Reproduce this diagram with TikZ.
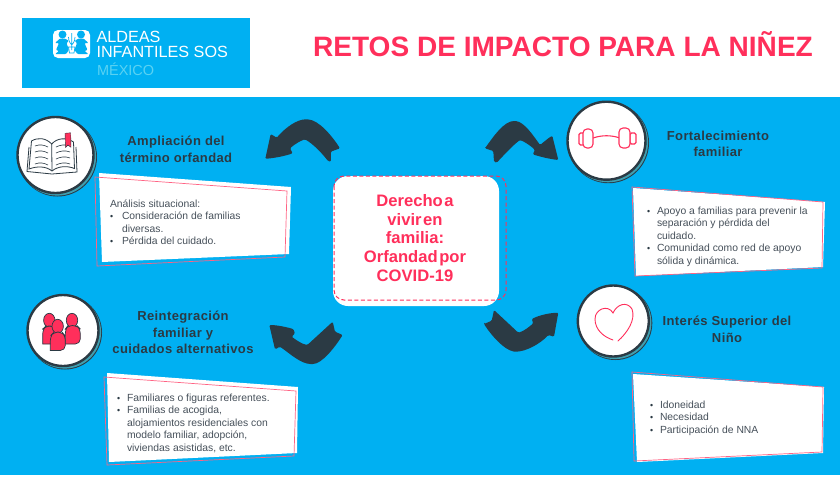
\documentclass[tikz,border=0pt]{standalone}
\usepackage{fontspec}
\setmainfont{Liberation Sans}
\usepackage{tikz}
\usetikzlibrary{positioning}
\definecolor{SosBlue}{HTML}{00B0F2}
\definecolor{SosPink}{HTML}{FF2F5B}
\definecolor{SosDark}{HTML}{2B3A44}
\definecolor{SosTeal}{HTML}{3F9FB0}
\definecolor{SosText}{HTML}{46505A}
\definecolor{SosSky}{HTML}{5AD2F2}
\newcommand{\bul}{\makebox[10pt][l]{\scalebox{0.85}{\textcolor{SosDark}{\textbullet}}}}
\newcommand{\ind}{\hspace*{10pt}}
\newcommand{\nsp}{\hspace{1.6pt}}
\tikzset{
  every node/.style={
    inner sep=0pt,
    outer sep=0pt
  },
  heading/.style={
    align=center,
    text=SosDark,
    font=\fontsize{13}{16.6}\selectfont\bfseries\addfontfeatures{LetterSpace=3}
  },
  bodytext/.style={
    anchor=north west,
    align=left,
    text=SosText,
    font=\fontsize{10.35}{12.5}\selectfont
  },
  iconring/.style={
    shape=circle,
    draw=SosDark,
    line width=2.4pt,
    fill=white
  },
  cardfill/.style={
    fill=white
  },
  cardline/.style={
    draw=SosPink!75,
    line width=0.7pt
  },
  bend arrow/.style={
    fill=SosDark,
    rounded corners=1.2pt
  },
  iconline/.style={
    draw=SosPink,
    line width=1.1pt,
    fill=white,
    rounded corners=1.5pt
  },
  person/.style={
    draw=SosDark,
    line width=0.7pt,
    fill=SosPink
  },
  bookline/.style={
    draw=SosDark,
    line width=0.8pt,
    fill=white
  }
}
\begin{document}
\begin{tikzpicture}[x=1pt,y=-1pt]
    \useasboundingbox (0,0) rectangle (840,477);
    \fill [white] (0,0) rectangle (840,477);
    \fill [SosBlue] (0,97) rectangle (840,475);
    \fill [SosBlue] (22,18) rectangle (250,88);
    \fill [white, rounded corners=5pt] (53,30) rectangle (90,58);
    \fill [SosBlue] (62.5,34.5) circle (4) (81,34.5) circle (4);
    \fill [SosBlue, rounded corners=1pt] (60,38.5) -- (65,38.5) -- (69,41) -- (66.5,43) -- (69,50) -- (66,54) -- (55,54) -- (59,51) -- (56,50) -- (59,43) -- (55,43) -- cycle;
    \fill [SosBlue, rounded corners=1pt] (83.5,38.5) -- (78.5,38.5) -- (74.5,41) -- (77,43) -- (74.5,50) -- (77.5,54) -- (88.5,54) -- (84.5,51) -- (87.5,50) -- (84.5,43) -- (88.5,43) -- cycle;
    \draw [SosBlue, line width=0.7pt] (71.7,33) -- (71.7,50) (68.5,37) .. controls (68.5,42) and (71,44) .. (71.7,45) (75,37) .. controls (75,42) and (72.5,44) .. (71.7,45) (68.5,47) -- (75,47) -- (74,53) -- (69.5,53) -- cycle;
    \node [anchor=north west, align=left, text=white, font=\fontsize{16.2}{15}\selectfont] (logotext) at (96.5,30.7) {ALDEAS\\INFANTILES SOS};
    \node [anchor=north west, text=SosSky, font=\fontsize{14.5}{16}\selectfont] (logoplace) at (97,62.5) {MÉXICO};
    \node [text=SosPink, font=\fontsize{28.05}{30}\selectfont\bfseries] (title) at (563,44) {RETOS DE IMPACTO PARA LA NIÑEZ};

    \fill [cardfill] (99,173) -- (291,187) -- (289,254) -- (102,262) -- cycle;
    \draw [cardline] (95,177) -- (287,191) -- (285,257) -- (97,266) -- cycle;
    \fill [cardfill] (633,188) -- (825,202) -- (823,267) -- (636,276) -- cycle;
    \draw [cardline] (632,187) -- (823,202) -- (822,268) -- (635,276) -- cycle;
    \fill [cardfill] (107,373) -- (298,387) -- (297,453) -- (109,462) -- cycle;
    \draw [cardline] (104,377) -- (296,391) -- (294,456) -- (107,465) -- cycle;
    \fill [cardfill] (633,374) -- (824,387) -- (823,453) -- (637,462) -- cycle;
    \draw [cardline] (632,372) -- (823,387) -- (822,452) -- (634,461) -- cycle;

    \node [bodytext] (analysis) at (110,199.5) {Análisis situacional:\\\bul\hspace{2pt}Consideración de familias\\\ind\hspace{2pt}diversas.\\\bul\hspace{2pt}Pérdida del cuidado.};
    \node [bodytext] (support) at (647,206.5) {\bul Apoyo a familias para prevenir la\\\ind separación y pérdida del\\\ind cuidado.\\\bul Comunidad como red de apoyo\\\ind sólida y dinámica.};
    \node [bodytext] (kin) at (117,393.5) {\bul Familiares o figuras referentes.\\\bul Familias de acogida,\\\ind alojamientos residenciales con\\\ind modelo familiar, adopción,\\\ind viviendas asistidas, etc.};
    \node [bodytext] (criteria) at (650,400.5) {\bul Idoneidad\\\bul Necesidad\\\bul Participación de NNA};

    \node [heading] (widen) at (176,149) {Ampliación del\\término orfandad};
    \node [heading] (strength) at (718,144) {Fortalecimiento\\familiar};
    \node [heading] (reunite) at (183,332.5) {Reintegración\\familiar y\\cuidados alternativos};
    \node [heading] (interest) at (727,329.5) {Interés Superior del\\Niño};

    \fill [white, rounded corners=15pt] (333,176) rectangle (499,306);
    \draw [SosPink, line width=1pt, dash pattern=on 4pt off 2.5pt, rounded corners=10pt] (334,176) rectangle (506,300);
    \node [align=center, text=SosPink, font=\fontsize{16.6}{18.7}\selectfont\bfseries] (centre) at (415,238) {Derecho\nsp a\\vivir\nsp en\\familia:\\Orfandad\nsp por\\COVID-19};

    \fill [bend arrow] (265.3,158.8) -- (270.7,134) -- (276.7,137.7) .. controls (286,127) and (297,119.5) .. (306.7,119.3) .. controls (319,120) and (332,136) .. (340,148.3) -- (330.7,151.7) -- (331,161.7) -- (328,161) .. controls (321,152) and (313,144) .. (305,139.3) .. controls (300,141) and (295,144) .. (290,148.3) -- (292.7,153.3) .. controls (285,156) and (275,158) .. cycle;
    \fill [bend arrow] (485,148.3) -- (493.3,151) -- (494,161.7) -- (496.7,162.7) .. controls (504,155) and (512,146) .. (520,140) .. controls (525,142) and (531,146) .. (535,150) -- (532.7,154.3) .. controls (541,157) and (550,159) .. (558.3,160) -- (552.3,135.7) -- (548.3,138.3) -- (540,145) .. controls (533,135) and (524,122) .. (515,121) .. controls (504,121) and (493,137) .. cycle;
    \fill [bend arrow] (269.3,325) .. controls (277,325) and (286,327) .. (293.3,329) -- (295,333.3) -- (291.7,336.7) .. controls (296,340) and (302,344) .. (307.3,345) -- (332.7,321.7) -- (335,331.7) -- (342.7,335) .. controls (335,347) and (322,364) .. (311.7,364) .. controls (301,364) and (289,353) .. (280,346.7) -- (275,349.3) -- cycle;
    \fill [bend arrow] (484,324) -- (491.7,320.7) -- (494,310) -- (518.3,332.7) .. controls (524,331) and (529,327) .. (533.3,323.3) -- (531.7,319) .. controls (540,315) and (549,313) .. (558.3,312.7) -- (554,336.7) -- (548.3,335) .. controls (540,344) and (526,351.5) .. (515,351.7) .. controls (504,350) and (491,335) .. cycle;

    \foreach \ringname/\cx/\cy/\rr in {bookring/56.5/156/40.5, liftring/607.5/141.7/41.5, peoplering/64/331.5/38, heartring/614.3/322/38} {
      \fill [SosDark] (\cx+1,\cy+1) circle (\rr-1);
      \fill [SosTeal] (\cx+0.7,\cy+0.7) circle (\rr-1.6);
      \node [iconring, minimum size={(2*\rr-5)*1pt}] (\ringname) at (\cx-1,\cy-1) {};
    }

    \draw [bookline] (29,147) -- (27,171.5) -- (52,174) -- (77,172) -- (76,147);
    \draw [bookline] (51.7,144) .. controls (46,138) and (38,137) .. (31.5,141) -- (29,169) .. controls (37,166) and (46,166) .. (52,171) .. controls (58,166) and (67,165.5) .. (74.5,168.5) -- (73.5,142) .. controls (66,137) and (57,138) .. (51.7,144) -- cycle;
    \draw [SosDark, line width=0.8pt] (51.7,144) -- (52,171);
    \foreach \yy in {146,152,158,164} {
      \draw [SosDark, line width=0.6pt] (35,\yy) .. controls (40,\yy-2) and (44,\yy-1) .. (48,\yy+1);
      \draw [SosDark, line width=0.6pt] (56,\yy+1) .. controls (60,\yy-1) and (65,\yy-2) .. (70,\yy);
    }
    \draw [fill=SosPink, draw=SosDark, line width=0.4pt] (65,133.3) -- (70.7,132.8) -- (71,147.3) -- (68,145) -- (65.5,147.5) -- cycle;

    \draw [SosPink, line width=1.1pt] (593,138) .. controls (602,135) and (611,135) .. (620,138);
    \draw [iconline] (579,133) rectangle (585,145);
    \draw [iconline] (630,133) rectangle (636,144);
    \draw [iconline, rounded corners=4pt] (583,129) rectangle (593,148);
    \draw [iconline, rounded corners=4pt] (619,128) rectangle (630,148);

    \draw [person] (49.3,320.3) ellipse (5.7 and 7);
    \draw [person, rounded corners=5pt] (42.7,344) -- (42.7,329) -- (46,326) -- (53,326) -- (56,329) -- (56,344) [sharp corners] -- cycle;
    \draw [person] (72,320.3) ellipse (5.7 and 7);
    \draw [person, rounded corners=5pt] (65.3,344) -- (65.3,329) -- (68,325.5) -- (77,325.5) -- (80.3,329) -- (80.3,344) [sharp corners] -- cycle;
    \draw [person] (57.7,326.3) ellipse (5.7 and 7);
    \draw [person, rounded corners=5pt] (50.3,350.5) -- (50.3,336) -- (54,332) -- (62,332) -- (65.3,336) -- (65.3,350.5) [sharp corners] -- cycle;

    \draw [SosPink, line width=0.9pt, line cap=round] (613,340) .. controls (604,337) and (595,330) .. (595,319) .. controls (595,309) and (608,304) .. (613,313) .. controls (617,304) and (627,301) .. (632,309) .. controls (636,320) and (627,333) .. (618,341);
\end{tikzpicture}
\end{document}
